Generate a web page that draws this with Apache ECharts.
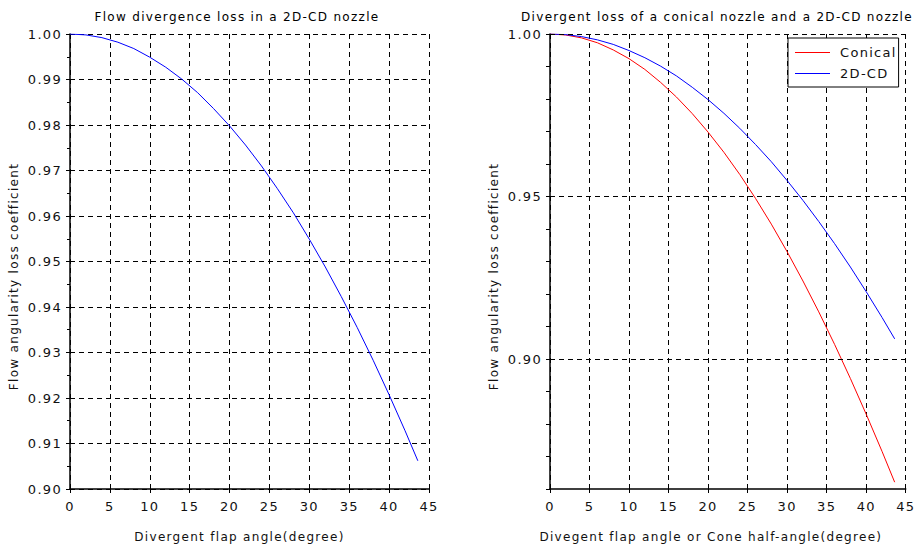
<!DOCTYPE html>
<html><head><meta charset="utf-8">
<script src="https://cdn.jsdelivr.net/npm/echarts@6/dist/echarts.min.js"></script>
<style>html,body{margin:0;padding:0;background:#fff}#c{width:917px;height:548px}#c text{letter-spacing:1.3px}</style>
</head><body><div id="c"></div>
<script>
// angle (degree)
const angles = [0,2,4,6,8,10,12,14,16,18,20,22,24,26,28,30,32,34,36,38,40,42,43.6];
// 2D-CD nozzle loss coefficient
const cd2d = [1.0000,0.9998,0.9992,0.9982,0.9968,0.9949,0.9927,0.9901,0.9871,0.9836,0.9798,0.9756,0.9710,0.9660,0.9607,0.9549,0.9488,0.9423,0.9355,0.9283,0.9207,0.9128,0.9062];
// conical nozzle loss coefficient
const conical = [1.0000,0.9997,0.9988,0.9973,0.9951,0.9924,0.9891,0.9851,0.9806,0.9755,0.9698,0.9636,0.9568,0.9494,0.9415,0.9330,0.9240,0.9145,0.9045,0.8940,0.8830,0.8716,0.8621];
const rightGridLines = [0.90,0.95,1.00];
const titles = ['Flow divergence loss in a 2D-CD nozzle','Divergent loss of a conical nozzle and a 2D-CD nozzle'];
const xNames = ['Divergent flap angle(degree)','Divegent flap angle or Cone half-angle(degree)'];
const yName = 'Flow angularity loss coefficient';

const F = 'DejaVu Sans';
const txt = {fontFamily:F, fontSize:13, color:'#111'};
const dash = {color:'#000', type:[5,4], width:1};
const pairs = a => angles.map((x,i)=>[x,a[i]]);
const xPad = [[0,20,0,0],[0,34,0,0]];

const option = {
  animation:false,
  backgroundColor:'#fff',
  title:[
    {text:titles[0], left:232, top:6, textAlign:'center', textStyle:{fontFamily:F,fontSize:12,fontWeight:'normal',color:'#000'}},
    {text:titles[1], left:712, top:6, textAlign:'center', textStyle:{fontFamily:F,fontSize:12,fontWeight:'normal',color:'#000'}}
  ],
  grid:[
    {left:70, top:34, width:359, height:455},
    {left:550, top:34, width:361, height:455}
  ],
  legend:{
    data:['Conical','2D-CD'], left:788, top:38, orient:'vertical', icon:'rect',
    backgroundColor:'#fff', borderColor:'#000', borderWidth:1, borderRadius:0,
    padding:[8,11,7,7], itemGap:8, itemWidth:35, itemHeight:1.2,
    textStyle:{fontFamily:F,fontSize:13,color:'#111',padding:[0,0,0,5]}
  },
  xAxis:[0,1].map(i=>({
    gridIndex:i, type:'value', min:0, max:45, interval:5,
    name:xNames[i], nameLocation:'middle', nameGap:42,
    nameTextStyle:{fontFamily:F,fontSize:12,color:'#111',padding:xPad[i]},
    axisLine:{show:true,onZero:false,lineStyle:{color:'#000',width:1.5}},
    axisTick:{show:true,length:4,lineStyle:{color:'#000'}},
    axisLabel:Object.assign({margin:11},txt),
    splitLine:{show:true,lineStyle:dash}
  })),
  yAxis:[
    {gridIndex:0, type:'value', min:0.90, max:1.00, interval:0.01,
     name:yName, nameLocation:'middle', nameGap:50,
     nameTextStyle:{fontFamily:F,fontSize:12,color:'#111',padding:[0,30,0,0]},
     axisLine:{show:true,onZero:false,lineStyle:{color:'#000',width:1.5}},
     axisTick:{show:true,length:4,lineStyle:{color:'#000'}},
     minorTick:{show:true,splitNumber:2,length:3,lineStyle:{color:'#000'}},
     axisLabel:Object.assign({margin:8,formatter:v=>v.toFixed(2)},txt),
     splitLine:{show:true,lineStyle:dash}},
    {gridIndex:1, type:'value', min:0.86, max:1.00, interval:0.01,
     name:yName, nameLocation:'middle', nameGap:50,
     nameTextStyle:{fontFamily:F,fontSize:12,color:'#111',padding:[0,30,0,0]},
     axisLine:{show:true,onZero:false,lineStyle:{color:'#000',width:1.5}},
     axisTick:{show:true,length:4,lineStyle:{color:'#000'}},
     axisLabel:Object.assign({margin:8,formatter:v=>{const r=Math.round(v*100);return (r%5===0)?v.toFixed(2):'';}},txt),
     splitLine:{show:false}}
  ],
  series:[
    {type:'line', xAxisIndex:0, yAxisIndex:0, data:pairs(cd2d), symbol:'none', lineStyle:{color:'#0000ff',width:1}, itemStyle:{color:'#0000ff'}},
    {name:'Conical', type:'line', xAxisIndex:1, yAxisIndex:1, data:pairs(conical), symbol:'none', lineStyle:{color:'#ff0000',width:1}, itemStyle:{color:'#ff0000'},
     markLine:{silent:true, symbol:'none', label:{show:false}, lineStyle:dash, data:rightGridLines.map(v=>({yAxis:v}))}},
    {name:'2D-CD', type:'line', xAxisIndex:1, yAxisIndex:1, data:pairs(cd2d), symbol:'none', lineStyle:{color:'#0000ff',width:1}, itemStyle:{color:'#0000ff'}}
  ]
};
echarts.init(document.getElementById('c'),null,{renderer:'svg'}).setOption(option);
</script></body></html>
